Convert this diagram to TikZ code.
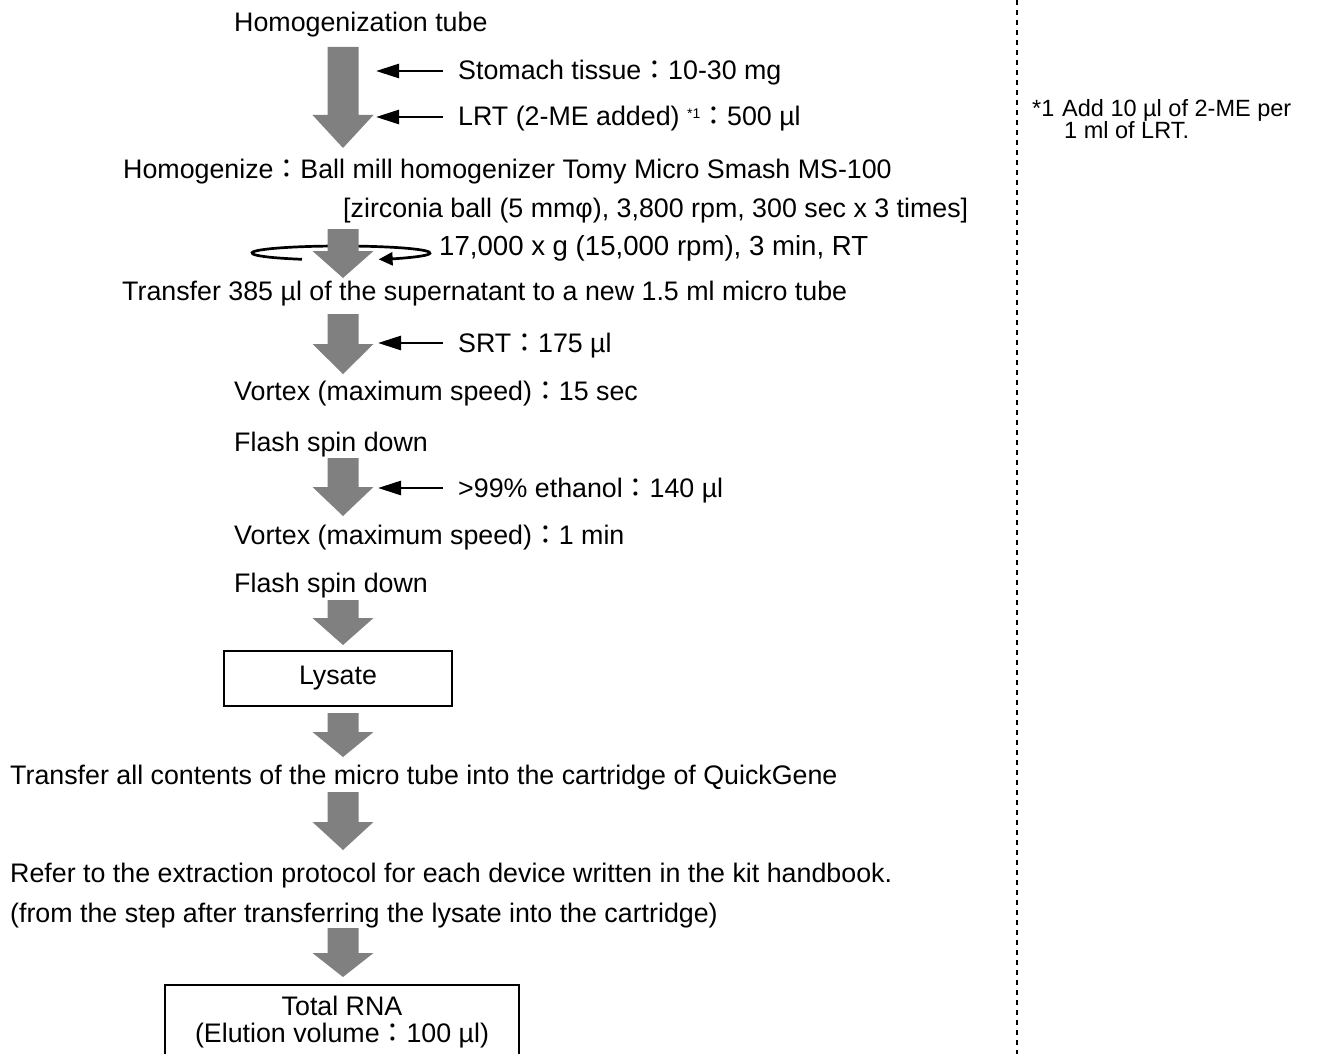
\documentclass[tikz,border=0pt]{standalone}
\usepackage{fontspec}
\setmainfont{Liberation Sans}
\newfontfamily\jpfont{Noto Sans CJK JP}
\usetikzlibrary{arrows.meta}
\newcommand{\fc}{{\jpfont ：}}
\definecolor{arrowgray}{RGB}{128,128,128}
% big grey arrow: #1 top, #2 head base, #3 tip
\newcommand{\grarrow}[3]{\fill[arrowgray] (327.5,#1) -- (358.5,#1) -- (358.5,#2) -- (373.5,#2) -- (343,#3) -- (312.5,#2) -- (327.5,#2) -- cycle;}
\begin{document}
\begin{tikzpicture}[x=1pt,y=-1pt,
  txt/.style={anchor=base west,inner sep=0pt,font=\fontsize{26.8}{31}\selectfont},
  note/.style={anchor=base west,inner sep=0pt,font=\fontsize{23.5}{19}\selectfont},
  addarr/.style={line width=2.7pt,-{Triangle[length=23pt,width=14pt]}},
  boxed/.style={draw,line width=1.8pt,inner sep=0pt,font=\fontsize{26.8}{31}\selectfont}]
\useasboundingbox (0,0) rectangle (1319,1054);
\clip (0,0) rectangle (1319,1054);

% dashed separator
\draw[line width=1.2pt,dash pattern=on 5pt off 5pt] (1017,0) -- (1017,1054);

% footnote
\node[note] (fnmark) at (1032,117) {*1};
\node[note] (fn1) at (1062,117) {Add 10 µl of 2-ME per};
\node[note] (fn2) at (1064,139) {1 ml of LRT.};

% texts
\node[txt] (tube) at (234,32) {Homogenization tube};
\node[txt] (stom) at (458,80) {Stomach tissue\fc 10-30 mg};
\node[txt] (lrt) at (458,126) {LRT (2-ME added) \raisebox{8pt}{\fontsize{14}{14}\selectfont *1}\fc 500 µl};
\node[txt] (homog) at (123,178) {Homogenize\fc Ball mill homogenizer Tomy Micro Smash MS-100};
\node[txt] (zirc) at (343,217) {[zirconia ball (5 mmφ), 3,800 rpm, 300 sec x 3 times]};
\node[txt,font=\fontsize{27.6}{31}\selectfont] (cent) at (439,255) {17,000 x g (15,000 rpm), 3 min, RT};
\node[txt] (trans) at (122,300) {Transfer 385 µl of the supernatant to a new 1.5 ml micro tube};
\node[txt] (srt) at (458,352) {SRT\fc 175 µl};
\node[txt] (vort1) at (234,400) {Vortex (maximum speed)\fc 15 sec};
\node[txt] (flash1) at (234,451) {Flash spin down};
\node[txt] (eth) at (458,497) {>99\% ethanol\fc 140 µl};
\node[txt] (vort2) at (234,544) {Vortex (maximum speed)\fc 1 min};
\node[txt] (flash2) at (234,592) {Flash spin down};
\node[boxed,minimum width=228pt,minimum height=55pt] (lysate) at (338,678.5) {Lysate};
\node[txt] (transall) at (10,784) {Transfer all contents of the micro tube into the cartridge of QuickGene};
\node[txt] (refer) at (10,882) {Refer to the extraction protocol for each device written in the kit handbook.};
\node[txt] (from) at (10,922) {(from the step after transferring the lysate into the cartridge)};
\draw[line width=1.8pt] (165,985) rectangle (519,1080);
\node[inner sep=0pt,align=center,font=\fontsize{26.8}{27}\selectfont] (total) at (342,1022) {Total RNA\\(Elution volume\fc 100 µl)};

% centrifuge rotation
\draw[line width=2.7pt,-{Triangle[length=14pt,width=13pt]}] (341,253) ++(244:89pt and 7pt) arc[start angle=244,end angle=-65,x radius=89pt,y radius=7pt];

% big grey arrows
\grarrow{47}{115}{148}
\grarrow{229}{251}{278}
\grarrow{314}{344}{374}
\grarrow{458}{487}{516}
\grarrow{600}{618}{645}
\grarrow{713}{732}{757}
\grarrow{792}{822}{850}
\grarrow{928}{953}{977}

% addition arrows
\coordinate (t1) at ([xshift=-82pt,yshift=9pt]stom.base west);
\coordinate (t2) at ([xshift=-82pt,yshift=9pt]lrt.base west);
\coordinate (t3) at ([xshift=-80pt,yshift=9pt]srt.base west);
\coordinate (t4) at ([xshift=-80pt,yshift=9pt]eth.base west);
\draw[addarr] ([xshift=-15pt,yshift=9pt]stom.base west) -- (t1);
\draw[addarr] ([xshift=-15pt,yshift=9pt]lrt.base west) -- (t2);
\draw[addarr] ([xshift=-15pt,yshift=9pt]srt.base west) -- (t3);
\draw[addarr] ([xshift=-15pt,yshift=9pt]eth.base west) -- (t4);
\end{tikzpicture}
\end{document}
